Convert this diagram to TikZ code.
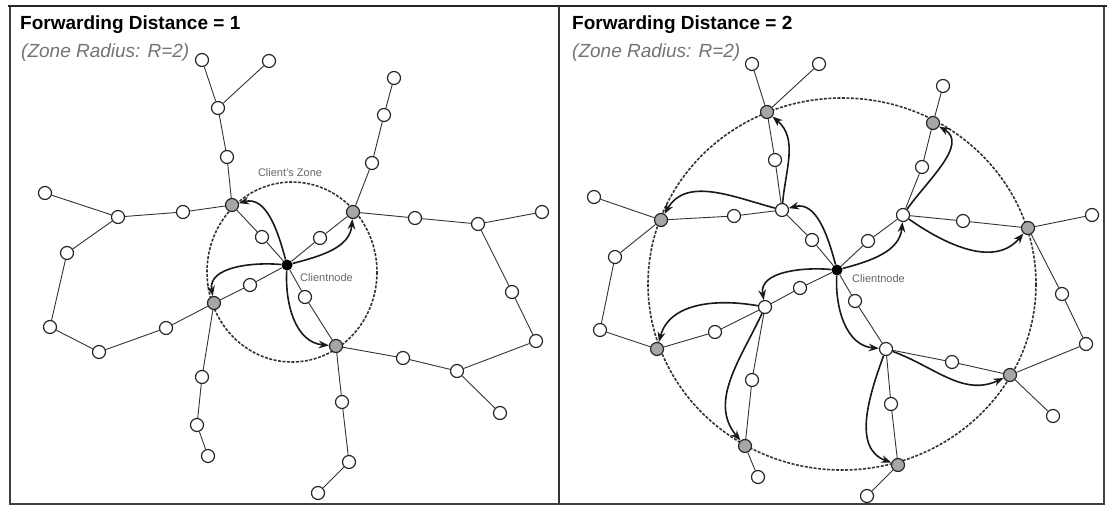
\documentclass[tikz,border=0pt]{standalone}
\usepackage{fontspec}
\setmainfont{Liberation Sans}
\usetikzlibrary{
  arrows.meta, % Pfeilspitzen
  calc
}

\begin{document}
\begin{tikzpicture}[
    x=1pt, y=-1pt, % Pixelkoordinaten
    >=Stealth, % Pfeilspitze
    edge/.style={line width=0.9pt, black!80}, % Verbindung
    wnode/.style={circle, draw=black!85, line width=1.2pt, fill=white, minimum size=13pt, inner sep=0pt},
    gnode/.style={wnode, fill=black!35}, % Randknoten
    cnode/.style={circle, fill=black, minimum size=11pt, inner sep=0pt}, % Clientknoten
    fwd/.style={->, line width=1.6pt, black!90}, % Weiterleitung
    zone/.style={line width=1.6pt, black!80, dash pattern=on 3pt off 1.5pt},
    title/.style={anchor=west, inner sep=0pt, font=\fontsize{19}{21}\selectfont\bfseries},
    sub/.style={anchor=west, inner sep=0pt, text=black!55, font=\fontsize{19}{21}\selectfont\itshape},
    lbl/.style={inner sep=1pt, text=black!60, font=\fontsize{11}{12}\selectfont},
  ]

  \useasboundingbox (0,0) rectangle (1107,505);

  % Rahmen
  \draw[line width=1.2pt, black!75] (10,6) rectangle (1104,504);
  \draw[line width=2pt, black!85] (8,6) -- (1107,6);
  \draw[line width=1.6pt, black!80] (559,6) -- (559,504);

  % Titel
  \node[title] (t1) at (20,25) {Forwarding Distance = 1};
  \node[sub] (s1) at (21,53) {(Zone Radius: R=2)};
  \node[title] (t2) at (572,25) {Forwarding Distance = 2};
  \node[sub] (s2) at (572,53) {(Zone Radius: R=2)};

  % Zonen
  \draw[zone] (292,272) ellipse [x radius=85, y radius=90];
  \draw[zone] (842,284) ellipse [x radius=194, y radius=186];

  % Knoten links
  \node[cnode] (ac) at (287,265) {};
  \foreach \n/\x/\y in {ap1/232/205, ap2/353/212, ap3/214/303, ap4/336/346}
    \node[gnode] (\n) at (\x,\y) {};
  \foreach \n/\x/\y in {ai1/262/237, ai2/320/238, ai3/250/285, ai4/305/297,
      a1/227/157, a2/218/108, a3/202/60, a4/269/61,
      a5/183/212, a6/118/217, a7/45/193, a8/67/253, a9/50/327, a10/99/352, a11/166/328,
      a12/202/377, a13/197/425, a14/208/456, a15/372/163, a16/384/115, a17/394/78,
      a18/415/218, a19/478/224, a20/542/212, a21/512/292, a22/536/341, a23/457/371,
      a24/403/358, a25/500/413, a26/342/402, a27/349/462, a28/318/493}
    \node[wnode] (\n) at (\x,\y) {};

  % Knoten rechts
  \node[cnode] (bc) at (837,270) {};
  \foreach \n/\x/\y in {bg1/767/112, bg2/933/123, bg3/1028/228, bg4/1010/375,
      bg5/898/465, bg6/745/446, bg7/657/349, bg8/661/220}
    \node[gnode] (\n) at (\x,\y) {};
  \foreach \n/\x/\y in {bi1/812/240, bi2/868/241, bi3/855/301, bi4/800/288,
      bw1/782/210, bw2/903/215, bw3/886/349, bw4/765/307,
      bm1/775/160, bm8/734/216, bm2/922/167, bm3/963/221, bm4/952/362, bm5/891/404,
      bm7/715/332, bm6/752/380, b1/752/64, b2/819/64, b3/943/86, b4/1092/215,
      b5/1062/294, b6/1086/344, b7/1053/416, b8/867/496, b9/758/477, b10/600/330,
      b11/615/257, b12/594/197}
    \node[wnode] (\n) at (\x,\y) {};

  % Beschriftung
  \node[lbl] (zn) at (290,173) {Client's Zone};
  \node[lbl, anchor=west] (cn1) at (299,278) {Clientnode};
  \node[lbl, anchor=west] (cn2) at (851,279) {Clientnode};

  % Kanten
  \foreach \i/\j in {ac/ai1, ai1/ap1, ac/ai2, ai2/ap2, ac/ai3, ai3/ap3, ac/ai4, ai4/ap4,
      ap1/a1, a1/a2, a2/a3, a2/a4, ap1/a5, a5/a6, a6/a7, a6/a8, a8/a9, a9/a10,
      a10/a11, a11/ap3, ap3/a12, a12/a13, a13/a14, ap2/a15, a15/a16, a16/a17,
      ap2/a18, a18/a19, a19/a20, a19/a21, a21/a22, a22/a23, a23/a24, a24/ap4,
      a23/a25, ap4/a26, a26/a27, a27/a28,
      bc/bi1, bi1/bw1, bc/bi2, bi2/bw2, bc/bi3, bi3/bw3, bc/bi4, bi4/bw4,
      bw1/bm1, bm1/bg1, bw1/bm8, bm8/bg8, bw2/bm2, bm2/bg2, bw2/bm3, bm3/bg3,
      bw3/bm4, bm4/bg4, bw3/bm5, bm5/bg5, bw4/bm7, bm7/bg7, bw4/bm6, bm6/bg6,
      bg1/b1, bg1/b2, bg2/b3, bg3/b4, bg3/b5, b5/b6, b6/bg4, bg4/b7, bg5/b8,
      bg6/b9, bg7/b10, b10/b11, b11/bg8, bg8/b12}
    \draw[edge] (\i) -- (\j);

  % Weiterleitung
  \foreach \i/\j/\o/\n in {ac/ap1/105/15, ac/ap2/15/-95, ac/ap3/175/100, ac/ap4/-93/175,
      bc/bw1/105/15, bc/bw2/15/-95, bc/bw4/175/100, bc/bw3/-93/175,
      bw1/bg1/85/-40, bw1/bg8/165/60, bw2/bg2/55/-30, bw2/bg3/-35/-130,
      bw3/bg4/-20/-155, bw3/bg5/-110/160, bw4/bg7/170/75, bw4/bg6/-115/130}
    \draw[fwd] (\i) to[out=\o, in=\n] (\j);

\end{tikzpicture}
\end{document}
